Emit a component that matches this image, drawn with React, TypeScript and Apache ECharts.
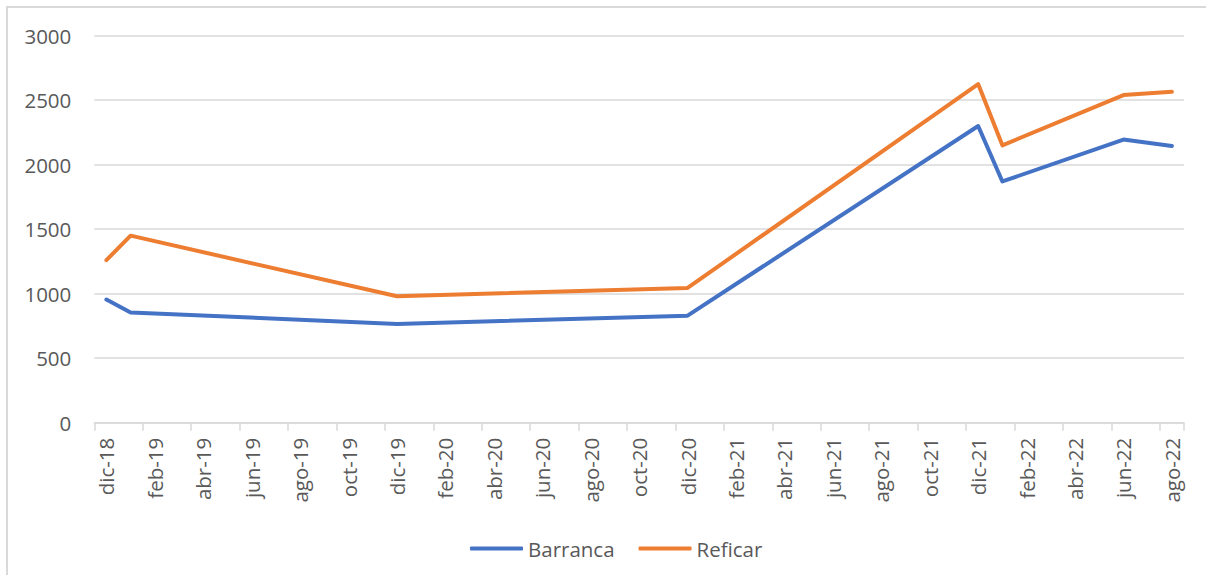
import React, { useEffect, useRef } from "react";
import * as echarts from "echarts";

// Monthly slots of the date axis (Excel-style, base unit = month)
const months = [
  "dic-18",
  "ene-19", "feb-19", "mar-19", "abr-19", "may-19", "jun-19", "jul-19", "ago-19", "sep-19", "oct-19", "nov-19", "dic-19",
  "ene-20", "feb-20", "mar-20", "abr-20", "may-20", "jun-20", "jul-20", "ago-20", "sep-20", "oct-20", "nov-20", "dic-20",
  "ene-21", "feb-21", "mar-21", "abr-21", "may-21", "jun-21", "jul-21", "ago-21", "sep-21", "oct-21", "nov-21", "dic-21",
  "ene-22", "feb-22", "mar-22", "abr-22", "may-22", "jun-22", "jul-22", "ago-22",
];

// Observation dates
const dates = ["dic-18", "ene-19", "dic-19", "dic-20", "dic-21", "ene-22", "jun-22", "ago-22"];
const barranca = [955, 855, 765, 830, 2300, 1870, 2195, 2145];
const reficar = [1260, 1450, 980, 1045, 2625, 2150, 2540, 2565];

const yTicks = { min: 0, max: 3000, interval: 500 };

const FONT = "'Open Sans', 'Liberation Sans', sans-serif";
const LABEL = "#595959";
const GRID = "#d9d9d9";

export default function App() {
  const ref = useRef<HTMLDivElement>(null);

  useEffect(() => {
    if (!ref.current) return;
    const chart = echarts.init(ref.current, undefined, { renderer: "svg" });
    chart.setOption({
      animation: false,
      backgroundColor: "#ffffff",
      textStyle: { fontFamily: FONT },
      graphic: [
        {
          type: "rect",
          shape: { x: 7, y: 7, width: 1230, height: 600 },
          style: { fill: "none", stroke: GRID, lineWidth: 2 },
          silent: true,
          z: -1,
        },
      ],
      grid: { left: 94.3, right: 22, top: 35.7, bottom: 152.3, containLabel: false },
      legend: {
        left: 465,
        top: 533,
        itemWidth: 53,
        itemHeight: 4,
        itemGap: 24,
        icon: "roundRect",
        textStyle: { color: LABEL, fontSize: 20.5, fontFamily: FONT },
        data: ["Barranca", "Reficar"],
      },
      xAxis: {
        type: "category",
        data: months,
        boundaryGap: true,
        axisLine: { show: true, lineStyle: { color: GRID, width: 1.5 } },
        axisTick: { show: true, interval: 1, length: 8, lineStyle: { color: GRID, width: 1.5 } },
        axisLabel: {
          interval: 1,
          rotate: 90,
          margin: 15,
          color: LABEL,
          fontSize: 20.5,
          fontFamily: FONT,
        },
        splitLine: { show: false },
      },
      yAxis: {
        type: "value",
        min: yTicks.min,
        max: yTicks.max,
        interval: yTicks.interval,
        axisLine: { show: false },
        axisTick: { show: false },
        axisLabel: {
          color: LABEL,
          fontSize: 20.5,
          fontFamily: FONT,
          margin: 23,
          formatter: (v: number) => String(v),
        },
        splitLine: { lineStyle: { color: GRID, width: 1.5 } },
      },
      series: [
        {
          name: "Barranca",
          type: "line",
          data: dates.map((d, i) => [d, barranca[i]]),
          showSymbol: false,
          symbol: "none",
          color: "#4472C4",
          lineStyle: { color: "#4472C4", width: 4, cap: "round", join: "round" },
        },
        {
          name: "Reficar",
          type: "line",
          data: dates.map((d, i) => [d, reficar[i]]),
          showSymbol: false,
          symbol: "none",
          color: "#ED7D31",
          lineStyle: { color: "#ED7D31", width: 4, cap: "round", join: "round" },
        },
      ],
    });
    return () => chart.dispose();
  }, []);

  return (
    <div
      ref={ref}
      style={{ position: "absolute", left: 0, top: 0, width: 1206, height: 575 }}
    />
  );
}
